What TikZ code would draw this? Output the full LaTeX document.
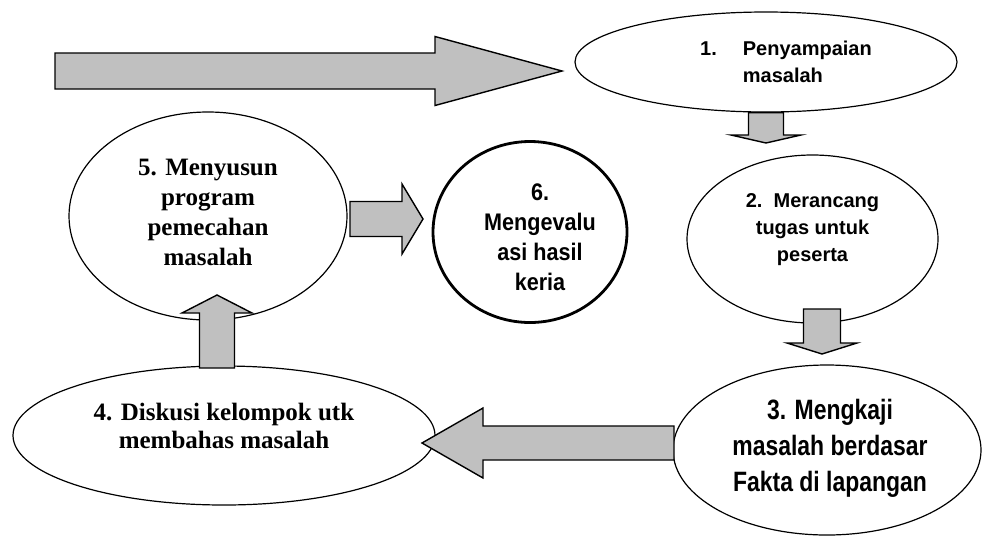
\documentclass[tikz,border=0pt]{standalone}
\usepackage{fontspec}
\setmainfont{Liberation Serif}
\newfontfamily\arialfont{Liberation Sans}
\newfontfamily\evalfont[FakeStretch=0.9]{Liberation Sans}
\newfontfamily\narrowfont[FakeStretch=0.82]{Liberation Sans}
\usetikzlibrary{shapes.geometric,calc}

\definecolor{arrowgray}{RGB}{192,192,192}

\tikzset{
  bubble/.style={draw, ellipse, line width=1.2pt, inner sep=0pt},
  blockarrow/.style={draw, fill=arrowgray, line width=1.4pt, line join=miter},
  sanslabel/.style={inner sep=0pt, align=center, font=\arialfont\bfseries\fontsize{20}{27}\selectfont},
  seriflabel/.style={inner sep=0pt, align=center, font=\bfseries\fontsize{25}{30}\selectfont},
}

% fat arrow: tail, tip, half shaft, half head, head length
\newcommand{\fatarrow}[5]{%
  \coordinate (hb) at ($(#2)!#5!(#1)$);
  \draw[blockarrow] ($(#1)!#3!90:(#2)$) -- ($(hb)!#3!90:(#2)$) -- ($(hb)!#4!90:(#2)$) -- (#2)
    -- ($(hb)!#4!-90:(#2)$) -- ($(hb)!#3!-90:(#2)$) -- ($(#1)!#3!-90:(#2)$) -- cycle;
}

\begin{document}
\begin{tikzpicture}[x=1pt, y=-1pt]
	\useasboundingbox (0,0) rectangle (984,542);

	% steps
	\node[bubble, minimum width=382pt, minimum height=100pt] (e1) at (766,62) {};
	\node[bubble, minimum width=251pt, minimum height=168pt] (e2) at (812.5,239) {};
	\node[bubble, minimum width=308pt, minimum height=170pt] (e3) at (827,450) {};
	\node[bubble, minimum width=422pt, minimum height=139pt] (e4) at (224,435.5) {};
	\node[bubble, minimum width=278pt, minimum height=208pt] (e5) at (208,216) {};
	\node[bubble, line width=2.8pt, minimum width=194pt, minimum height=181pt] (e6) at (530,232) {};

	% texts
	\node[sanslabel] (t1) at ([xshift=20pt,yshift=-1.5pt]e1.center)
		{\begin{tabular}{@{}l@{\hspace{26pt}}l@{}}1. & Penyampaian\\ & masalah\end{tabular}};
	\node[sanslabel] (t2) at ([yshift=9pt]e2.center) {2.\ \ Merancang\\tugas untuk\\peserta};
	\node[sanslabel, font=\narrowfont\bfseries\fontsize{28}{36}\selectfont] (t3) at ([xshift=3pt,yshift=2pt]e3.center)
		{3. Mengkaji\\masalah berdasar\\Fakta di lapangan};
	\node[seriflabel, font=\bfseries\fontsize{25}{28}\selectfont] (t4) at ([yshift=9.5pt]e4.center)
		{4. Diskusi kelompok utk\\membahas masalah};
	\node[seriflabel] (t5) at ([yshift=4pt]e5.center) {5. Menyusun\\program\\pemecahan\\masalah};
	\node[sanslabel, font=\evalfont\bfseries\fontsize{24}{30}\selectfont] (t6) at ([xshift=10pt,yshift=-5.5pt]e6.center)
		{6.\\Mengevalu\\asi hasil\\keria};

	% block arrows
	\coordinate (entry) at (55,71);
	\coordinate (tip1) at (562,71);
	\coordinate (tip2) at (766,143);
	\coordinate (tail3) at (822,309);
	\coordinate (tip3) at (822,354);
	\coordinate (tail4) at (674,443);
	\coordinate (tip4) at (422,443);
	\coordinate (tail5) at (217,368);
	\coordinate (tip5) at (217,295);
	\coordinate (tail6) at (350,219);
	\coordinate (tip6) at (423,219);

	\fatarrow{entry}{tip1}{18pt}{34.5pt}{127pt}
	\fatarrow{e1.south}{tip2}{17.5pt}{35pt}{8pt}
	\fatarrow{tail3}{tip3}{18.5pt}{35pt}{11pt}
	\fatarrow{tail4}{tip4}{17pt}{35pt}{61pt}
	\fatarrow{tail5}{tip5}{17.5pt}{35pt}{18pt}
	\fatarrow{tail6}{tip6}{17.5pt}{35pt}{21pt}
\end{tikzpicture}
\end{document}
